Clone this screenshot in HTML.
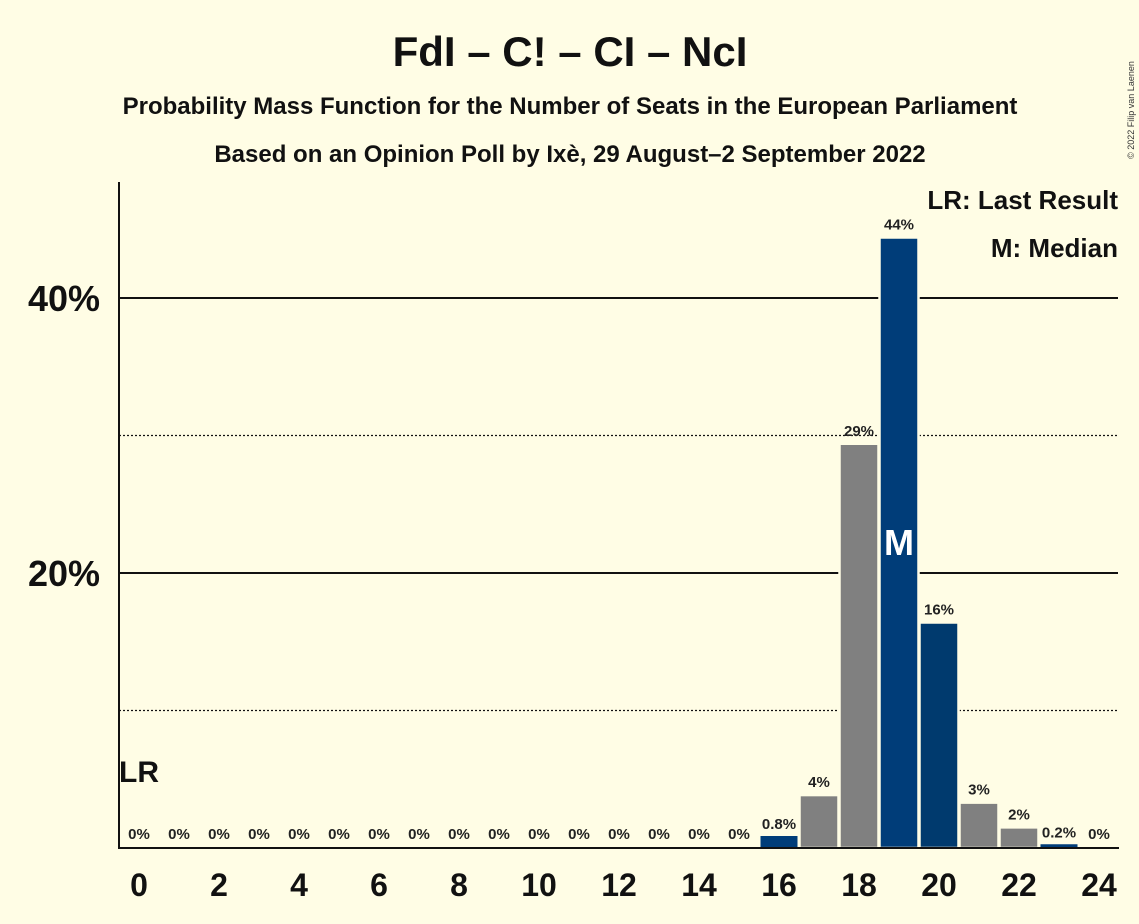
<!DOCTYPE html>
<html><head><meta charset="utf-8"><style>
body{margin:0;background:#fffde5;}
svg{display:block;font-family:"Liberation Sans",sans-serif;}
</style></head><body>
<svg id="c" width="1139" height="924" viewBox="0 0 1139 924">
<rect width="1139" height="924" fill="#fffde5"/>
<text x="570" y="66" text-anchor="middle" font-size="42" font-weight="bold" fill="#111">FdI – C! – CI – NcI</text>
<text x="570" y="114" text-anchor="middle" font-size="24" font-weight="bold" fill="#111">Probability Mass Function for the Number of Seats in the European Parliament</text>
<text x="570" y="162" text-anchor="middle" font-size="24" font-weight="bold" fill="#111">Based on an Opinion Poll by Ixè, 29 August–2 September 2022</text>
<text x="1134" y="110" font-size="9" fill="#333" transform="rotate(-90 1134 110)" text-anchor="middle">© 2022 Filip van Laenen</text>
<g id="grid"></g>
<g id="bars"></g>
<line x1="119" y1="182" x2="119" y2="849" stroke="#111" stroke-width="2"/>
<line x1="118" y1="848" x2="1119" y2="848" stroke="#111" stroke-width="2"/>
<text x="1118" y="209" text-anchor="end" font-size="26" font-weight="bold" fill="#111">LR: Last Result</text>
<text x="1118" y="257" text-anchor="end" font-size="26" font-weight="bold" fill="#111">M: Median</text>
<text x="119" y="782" font-size="30" font-weight="bold" fill="#111">LR</text>
</svg>
<script>
const seats=[0,1,2,3,4,5,6,7,8,9,10,11,12,13,14,15,16,17,18,19,20,21,22,23,24];
const probs=[0,0,0,0,0,0,0,0,0,0,0,0,0,0,0,0,0.8,3.85,29.4,44.4,16.4,3.3,1.5,0.2,0];
const labels=["0%","0%","0%","0%","0%","0%","0%","0%","0%","0%","0%","0%","0%","0%","0%","0%","0.8%","4%","29%","44%","16%","3%","2%","0.2%","0%"];
const yTicks=[20,40];
const yMinor=[10,30];
const xTicks=[0,2,4,6,8,10,12,14,16,18,20,22,24];
const median=19;
const NS="http://www.w3.org/2000/svg";
const X=s=>139+s*40;
const Y=v=>848-v*13.75;
const grid=document.getElementById('grid'),bars=document.getElementById('bars');
function mk(tag,attrs,parent){const e=document.createElementNS(NS,tag);for(const k in attrs)e.setAttribute(k,attrs[k]);parent.appendChild(e);return e;}
yMinor.forEach(v=>{const l=mk('line',{x1:119,x2:1118,y1:Y(v),y2:Y(v),stroke:'#111','stroke-width':1.2,'stroke-dasharray':'2,2'},grid);

});
yTicks.forEach(v=>{const l=mk('line',{x1:119,x2:1118,y1:Y(v),y2:Y(v),stroke:'#111','stroke-width':2},grid);


const t=mk('text',{x:100,y:Y(v)+13,'text-anchor':'end','font-size':36,'font-weight':'bold',fill:'#111'},grid);t.textContent=v+'%';

});
xTicks.forEach(s=>{const t=mk('text',{x:X(s),y:896,'text-anchor':'middle','font-size':32,'font-weight':'bold',fill:'#111'},grid);t.textContent=s;

});
seats.forEach((s,i)=>{const v=probs[i];
const blue=(s===16||s===19||s===20||s===23);
const col=s===20?'#003a6e':(blue?'#003d79':'#808080');
if(v>0){const big=v>=1;
const r=mk('rect',{x:X(s)-19.5+(big?0:1),y:Y(v)-(big?0:1),width:big?39:37,height:848-Y(v)+(big?0:1),fill:col,stroke:big?'#fffde5':'none','stroke-width':2.5},bars);

}
const t=mk('text',{x:X(s),y:v>0?Y(v)-8:839,'text-anchor':'middle','font-size':15,'font-weight':'bold',fill:'#222'},bars);
t.textContent=labels[i];


if(s===median){const m=mk('text',{x:X(s),y:Y(v/2)+12,'text-anchor':'middle','font-size':36,'font-weight':'bold',fill:'#fff'},bars);m.textContent='M';

}
});
</script>
</body></html>
